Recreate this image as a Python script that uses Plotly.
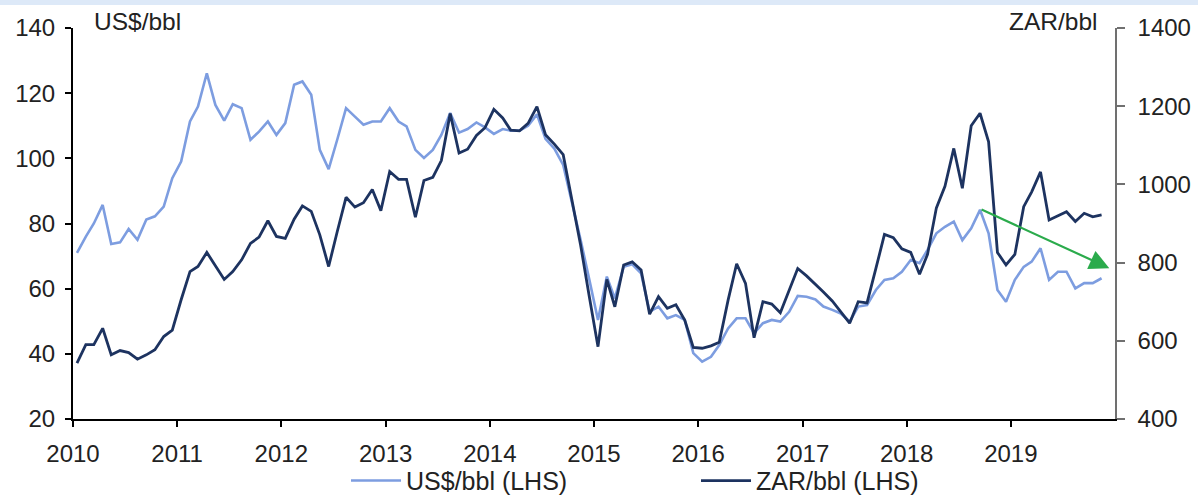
import plotly.graph_objects as go

# ---------------- data (monthly, Jan 2010 - Nov 2019) ----------------
months = [f"{y}-{m:02d}-15" for y in range(2010, 2020) for m in range(1, 13)][:119]

usd_bbl = [
    71.0, 76.0, 80.0, 85.7, 73.7, 74.2, 78.3, 75.0, 81.2, 82.2, 85.2, 93.9,          # 2010
    99.0, 111.3, 115.9, 126.1, 116.4, 111.6, 116.6, 115.4, 105.7, 108.2, 111.3, 107.2,  # 2011
    110.8, 122.6, 123.6, 119.5, 102.6, 96.7, 105.7, 115.4, 112.8, 110.3, 111.3, 111.3,  # 2012
    115.4, 111.3, 109.8, 102.6, 100.1, 102.6, 107.2, 113.9, 107.9, 109.0, 111.0, 109.5, # 2013
    107.5, 109.0, 108.5, 108.5, 110.0, 113.5, 106.0, 103.0, 98.0, 87.0, 75.0, 63.0,     # 2014
    50.4, 63.7, 57.0, 66.7, 67.5, 64.7, 52.9, 54.5, 50.9, 51.9, 50.4, 40.2,            # 2015
    37.6, 39.1, 42.7, 47.8, 50.9, 50.9, 46.3, 49.4, 50.4, 49.9, 52.9, 57.8,            # 2016
    57.5, 56.7, 54.5, 53.5, 52.4, 49.9, 54.5, 55.0, 59.6, 62.7, 63.2, 65.2,            # 2017
    68.8, 67.8, 71.9, 77.0, 79.0, 80.6, 74.9, 78.5, 84.2, 77.0, 59.6, 56.0,            # 2018
    62.7, 66.7, 68.3, 72.4, 62.7, 65.2, 65.2, 60.1, 61.7, 61.7, 63.2,                  # 2019
]

zar_bbl = [
    543, 590, 590, 632, 564, 575, 570, 553, 564, 577, 611, 627,        # 2010
    705, 777, 790, 826, 792, 757, 777, 807, 849, 865, 907, 867,        # 2011
    862, 911, 945, 931, 871, 790, 879, 967, 942, 953, 987, 933,        # 2012
    1033, 1013, 1013, 916, 1010, 1018, 1061, 1181, 1080, 1090, 1125, 1145,  # 2013
    1192, 1170, 1139, 1137, 1156, 1199, 1127, 1103, 1076, 960, 845, 715,    # 2014
    585, 757, 687, 794, 802, 781, 668, 713, 683, 692, 653, 583,        # 2015
    581, 587, 596, 704, 797, 747, 608, 700, 694, 672, 732, 785,        # 2016
    766, 745, 725, 702, 675, 645, 700, 697, 785, 872, 864, 835,        # 2017
    826, 770, 821, 940, 995, 1092, 990, 1150, 1182, 1109, 826, 794,    # 2018
    821, 943, 981, 1032, 909, 919, 930, 905, 926, 917, 922,            # 2019
]

year_ticks = [f"{y}-01-01" for y in range(2010, 2020)]
year_labels = [str(y) for y in range(2010, 2020)]
left_ticks = [20, 40, 60, 80, 100, 120, 140]
right_ticks = [400, 600, 800, 1000, 1200, 1400]

# trend arrow (annotation, left-axis units)
arrow_start = ("2018-09-15", 84.5)
arrow_end = ("2019-12-12", 66.3)

LIGHT = "#7d9de0"
DARK = "#1d3360"
GREEN = "#2bab4c"
FONT = "Liberation Sans, Arial, sans-serif"
TXT = "#222222"

fig = go.Figure()
fig.add_trace(go.Scatter(
    x=months, y=usd_bbl, name="US$/bbl (LHS)", mode="lines",
    line=dict(color=LIGHT, width=2.6), yaxis="y",
))
fig.add_trace(go.Scatter(
    x=months, y=zar_bbl, name="ZAR/bbl (LHS)", mode="lines",
    line=dict(color=DARK, width=2.8), yaxis="y2",
))

fig.add_annotation(
    x=arrow_end[0], y=arrow_end[1], ax=arrow_start[0], ay=arrow_start[1],
    xref="x", yref="y", axref="x", ayref="y",
    showarrow=True, arrowhead=2, arrowsize=1.8, arrowwidth=2.2,
    arrowcolor=GREEN, text="",
)

fig.add_annotation(
    text="US$/bbl", xref="paper", yref="paper", x=0.018, y=1.016,
    xanchor="left", yanchor="middle", showarrow=False,
    font=dict(size=24.5, color=TXT, family=FONT),
)
fig.add_annotation(
    text="ZAR/bbl", xref="paper", yref="paper", x=0.986, y=1.016,
    xanchor="right", yanchor="middle", showarrow=False,
    font=dict(size=24.5, color=TXT, family=FONT),
)

# faint blue band along the very top of the image
fig.add_shape(type="rect", xref="paper", yref="paper",
              x0=-0.08, x1=1.09, y0=1.059, y1=1.075,
              line=dict(width=0), fillcolor="#dde9f8", layer="below")

fig.update_layout(
    width=1198, height=495,
    margin=dict(l=73, r=83, t=28, b=76, autoexpand=False),
    paper_bgcolor="white", plot_bgcolor="white",
    font=dict(family=FONT, size=24, color=TXT),
    showlegend=True,
    legend=dict(
        orientation="h", x=0.262, xanchor="left", y=-0.158, yanchor="middle",
        entrywidth=285, entrywidthmode="pixels", itemwidth=50,
        font=dict(size=25, family=FONT, color=TXT),
        bgcolor="rgba(0,0,0,0)", traceorder="normal",
    ),
    xaxis=dict(
        type="date", range=["2010-01-01", "2020-01-01"],
        tickmode="array", tickvals=year_ticks, ticktext=year_labels,
        showline=True, linecolor="black", linewidth=2,
        ticks="outside", ticklen=6, tickwidth=2, tickcolor="black",
        showgrid=False, zeroline=False, ticklabelstandoff=6,
        tickfont=dict(size=24),
    ),
    yaxis=dict(
        range=[20, 140], tickmode="array", tickvals=left_ticks,
        showline=True, linecolor="black", linewidth=2,
        ticks="outside", ticklen=6, tickwidth=2, tickcolor="black",
        showgrid=False, zeroline=False, ticklabelstandoff=5,
        tickfont=dict(size=24),
    ),
    yaxis2=dict(
        range=[400, 1400], tickmode="array", tickvals=right_ticks,
        overlaying="y", side="right",
        showline=True, linecolor="#707070", linewidth=1.5,
        ticks="outside", ticklen=8, tickwidth=1.5, tickcolor="#707070",
        showgrid=False, zeroline=False, ticklabelstandoff=8,
        tickfont=dict(size=24),
    ),
)

fig.write_html("out.html")
